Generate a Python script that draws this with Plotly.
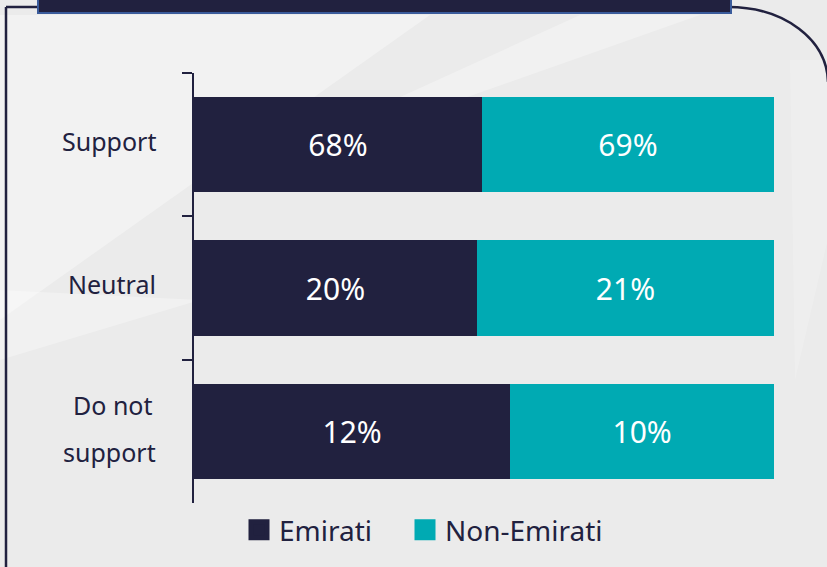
import plotly.graph_objects as go

categories = ["Support", "Neutral", "Do not support"]
emirati = [68, 20, 12]
non_emirati = [69, 21, 10]
series_names = ["Emirati", "Non-Emirati"]

NAVY = "#21213f"
TEAL = "#00aab3"
FONT = "Noto Sans"
W, H = 827, 567
L, R, T, B = 194, 53, 73, 64
PW, PH = W - L - R, H - T - B


def px(x):
    return (x - L) / PW


def py(y):
    return (H - B - y) / PH


fig = go.Figure()
fig.add_trace(go.Bar(
    y=categories, x=emirati, orientation="h", name=series_names[0],
    marker=dict(color=NAVY, line=dict(width=0)),
    text=[f"{v}%" for v in emirati], texttemplate="%{text}",
    textposition="inside", insidetextanchor="middle",
    textfont=dict(color="white", size=30, family=FONT),
    showlegend=False,
))
fig.add_trace(go.Bar(
    y=categories, x=non_emirati, orientation="h", name=series_names[1],
    marker=dict(color=TEAL, line=dict(width=0)),
    text=[f"{v}%" for v in non_emirati], texttemplate="%{text}",
    textposition="inside", insidetextanchor="middle",
    textfont=dict(color="white", size=30, family=FONT),
    showlegend=False,
))
# legend entries with larger square swatches, one legend each
for name, col, lg in zip(series_names, [NAVY, TEAL], ["legend", "legend2"]):
    fig.add_trace(go.Scatter(
        x=[None], y=[None], mode="markers", name=name, legend=lg,
        marker=dict(symbol="square", size=16, color=col, line=dict(color=col, width=5)),
        showlegend=True,
    ))

shapes = []
# background decorative light areas
shapes.append(dict(type="path", xref="paper", yref="paper", layer="below",
                   path=f"M {px(0)},{py(15)} L {px(430)},{py(15)} L {px(0)},{py(320)} Z",
                   fillcolor="rgba(255,255,255,0.35)", line=dict(width=0)))
shapes.append(dict(type="path", xref="paper", yref="paper", layer="below",
                   path=f"M {px(260)},{py(170)} L {px(700)},{py(15)} L {px(580)},{py(15)} L {px(240)},{py(170)} Z",
                   fillcolor="rgba(255,255,255,0.3)", line=dict(width=0)))
shapes.append(dict(type="path", xref="paper", yref="paper", layer="below",
                   path=f"M {px(0)},{py(290)} L {px(200)},{py(300)} L {px(0)},{py(360)} Z",
                   fillcolor="rgba(255,255,255,0.3)", line=dict(width=0)))
shapes.append(dict(type="path", xref="paper", yref="paper", layer="below",
                   path=f"M {px(790)},{py(60)} L {px(830)},{py(60)} L {px(830)},{py(230)} L {px(795)},{py(380)} Z",
                   fillcolor="rgba(255,255,255,0.18)", line=dict(width=0)))
# frame lines
shapes.append(dict(type="line", xref="paper", yref="paper",
                   x0=px(6), x1=px(6), y0=py(7), y1=py(570),
                   line=dict(color=NAVY, width=2.5)))
shapes.append(dict(type="line", xref="paper", yref="paper",
                   x0=px(6), x1=px(40), y0=py(7), y1=py(7),
                   line=dict(color=NAVY, width=2.5)))
shapes.append(dict(type="path", xref="paper", yref="paper",
                   path=f"M {px(728)},{py(7)} C {px(785)},{py(7)} {px(827)},{py(40)} {px(828)},{py(82)}",
                   line=dict(color=NAVY, width=2.5)))
# header box
shapes.append(dict(type="rect", xref="paper", yref="paper",
                   x0=px(38), x1=px(731), y0=py(-5), y1=py(13),
                   fillcolor=NAVY, line=dict(color="#3a5b9b", width=2)))

annotations = []
label_font = dict(family=FONT, size=25, color=NAVY)
annotations.append(dict(xref="paper", yref="y", x=0, y=categories[0], text="Support",
                        xanchor="right", yanchor="middle", xshift=-36, yshift=4,
                        showarrow=False, font=label_font))
annotations.append(dict(xref="paper", yref="y", x=0, y=categories[1], text="Neutral",
                        xanchor="right", yanchor="middle", xshift=-36, yshift=4,
                        showarrow=False, font=label_font))
annotations.append(dict(xref="paper", yref="y", x=0, y=categories[2], text="Do not",
                        xanchor="center", yanchor="middle", xshift=-82, yshift=26,
                        showarrow=False, font=label_font))
annotations.append(dict(xref="paper", yref="y", x=0, y=categories[2], text="support",
                        xanchor="right", yanchor="middle", xshift=-36, yshift=-21,
                        showarrow=False, font=label_font))

legend_common = dict(orientation="h", yanchor="middle", xanchor="left",
                     font=dict(family=FONT, size=28, color=NAVY),
                     bgcolor="rgba(0,0,0,0)", itemclick=False)

fig.update_layout(
    width=W, height=H, autosize=False,
    margin=dict(l=L, r=R, t=T, b=B, pad=0),
    paper_bgcolor="#ebebeb", plot_bgcolor="rgba(0,0,0,0)",
    barmode="stack", barnorm="percent", bargap=0.333,
    font=dict(family=FONT, color=NAVY),
    xaxis=dict(visible=False, range=[0, 100], fixedrange=True),
    yaxis=dict(type="category", categoryorder="array", categoryarray=categories,
               range=[2.5, -0.5], showticklabels=False, showgrid=False,
               showline=True, linecolor=NAVY, linewidth=2,
               ticks="outside", ticklen=10, tickwidth=2, tickcolor=NAVY,
               tickson="boundaries", zeroline=False, fixedrange=True),
    legend=dict(x=px(239), y=py(530), **legend_common),
    legend2=dict(x=px(405), y=py(530), **legend_common),
    shapes=shapes, annotations=annotations,
)

fig.write_html("out.html", config={"displayModeBar": False},
               post_script="document.body.style.margin='0';document.body.style.padding='0';")
